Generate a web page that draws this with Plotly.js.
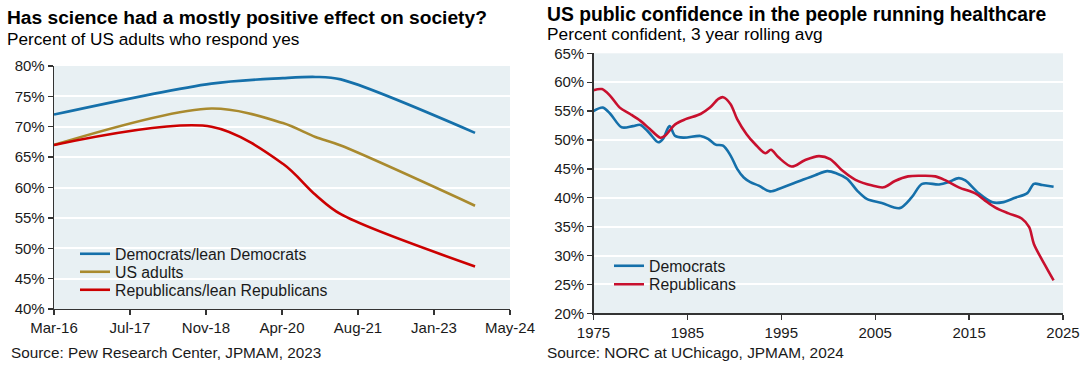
<!DOCTYPE html>
<html>
<head>
<meta charset="utf-8">
<script src="https://cdn.plot.ly/plotly-3.0.1.min.js"></script>
<style>
html,body{margin:0;padding:0;background:#fff;}
#chart{width:1084px;height:365px;}
</style>
</head>
<body>
<div id="chart"></div>
<script>
// ---- Left chart: Pew survey ----
const pewDates = ['2016-03-01','2019-01-01','2020-04-15','2020-11-15','2021-05-01','2023-10-01'];
const pewDem = [72, 77.1, 78.0, 78.2, 77.8, 69];
const pewAll = [67, 73.0, 70.6, 68.3, 66.9, 57];
const pewRep = [67, 70.0, 63.9, 58.8, 55.6, 47];
const pewTickVals = ['2016-03-01','2017-07-14','2018-11-26','2020-04-09','2021-08-22','2023-01-04','2024-05-18'];
const pewTickText = ['Mar-16','Jul-17','Nov-18','Apr-20','Aug-21','Jan-23','May-24'];

// ---- Right chart: NORC GSS confidence in medicine ----
const gssTickVals = [1975, 1985, 1995, 2005, 2015, 2025];
const demYears = [1975.0,1976.0,1976.8,1978.0,1979.2,1980.0,1980.9,1981.9,1982.4,1983.1,1983.7,1984.6,1986.4,1987.2,1988.0,1988.8,1989.6,1990.3,1991.0,1991.7,1992.6,1993.8,1995.0,1996.8,1998.6,1999.9,2000.9,2002.0,2003.1,2004.1,2005.7,2007.6,2008.9,2010.0,2011.8,2012.8,2013.9,2014.6,2016.0,2017.5,2018.5,2019.9,2021.2,2021.9,2022.8,2024.0];
const demVals  = [55.0,55.6,54.5,52.2,52.4,52.6,51.3,49.6,50.2,52.4,50.7,50.4,50.7,50.2,49.2,49.0,47.3,45.0,43.5,42.7,42.1,41.1,41.7,42.8,43.9,44.6,44.2,43.3,41.2,39.8,39.1,38.2,40.1,42.4,42.3,42.7,43.4,43.0,40.8,39.2,39.2,40.0,40.8,42.4,42.2,41.9];
const repYears = [1975.0,1975.9,1976.8,1977.8,1978.9,1980.0,1981.0,1982.1,1982.6,1983.7,1984.8,1986.4,1987.4,1988.3,1988.8,1989.6,1990.3,1991.3,1992.2,1993.3,1993.9,1994.7,1996.1,1997.5,1999.0,2000.2,2001.5,2002.9,2004.7,2005.9,2007.1,2008.5,2010.0,2011.4,2012.5,2013.9,2015.7,2016.7,2017.8,2019.2,2020.6,2021.4,2021.9,2023.1,2024.0];
const repVals  = [58.6,58.8,57.6,55.6,54.5,53.3,51.9,50.4,50.7,52.7,53.6,54.5,55.6,57.1,57.4,56.2,53.6,51.0,49.3,47.7,48.3,47.0,45.4,46.5,47.2,46.7,44.7,43.1,42.1,41.8,42.9,43.7,43.8,43.7,43.0,41.8,40.7,39.5,38.3,37.3,36.4,34.9,32.0,28.3,25.7];

const FONT = 'Liberation Sans, Arial, sans-serif';
const BLUE = '#1570AA';
const GOLD = '#A98A2E';
const RED_L = '#CC0000';
const RED_R = '#C8102E';
const BG = '#E8F0F3';

function line(x, y, name, color, xa, ya, leg) {
  return {x: x, y: y, name: name, type: 'scatter', mode: 'lines',
    line: {color: color, width: 2.6, shape: 'spline', smoothing: 0.9},
    xaxis: xa, yaxis: ya, legend: leg, hoverinfo: 'skip'};
}

const traces = [
  line(pewDates, pewDem, 'Democrats/lean Democrats', BLUE, 'x', 'y', 'legend'),
  line(pewDates, pewAll, 'US adults', GOLD, 'x', 'y', 'legend2'),
  line(pewDates, pewRep, 'Republicans/lean Republicans', RED_L, 'x', 'y', 'legend3'),
  line(demYears, demVals, 'Democrats', BLUE, 'x2', 'y2', 'legend4'),
  line(repYears, repVals, 'Republicans', RED_R, 'x2', 'y2', 'legend5')
];

const axisCommon = {
  showline: true, linecolor: '#333', linewidth: 1.3,
  ticks: 'outside', ticklen: 5, tickcolor: '#333', tickwidth: 1.3,
  tickfont: {family: FONT, size: 15, color: '#1a1a1a'},
  zeroline: false, fixedrange: true
};

const W = 1084, H = 365;
function leg(xpx, topPx) {
  return {x: xpx/W, y: (H-topPx)/H, xanchor: 'left', yanchor: 'top',
    bgcolor: 'rgba(0,0,0,0)', font: {family: FONT, size: 15.8, color: '#1a1a1a'},
    itemclick: false, itemdoubleclick: false};
}

const layout = {
  width: W, height: H,
  margin: {l: 0, r: 0, t: 0, b: 0},
  paper_bgcolor: '#fff',
  plot_bgcolor: BG,
  showlegend: true,
  font: {family: FONT, color: '#1a1a1a'},
  xaxis: Object.assign({}, axisCommon, {
    domain: [54/W, 510/W], type: 'date',
    range: ['2016-03-01', '2024-05-18'],
    tickmode: 'array', tickvals: pewTickVals, ticktext: pewTickText,
    showgrid: false, anchor: 'y'
  }),
  yaxis: Object.assign({}, axisCommon, {
    domain: [(H-309)/H, (H-66)/H], range: [40, 80], dtick: 5, ticksuffix: '%',
    showgrid: true, gridcolor: '#ffffff', gridwidth: 2, anchor: 'x'
  }),
  xaxis2: Object.assign({}, axisCommon, {
    domain: [593.5/W, 1063/W], range: [1975, 2025],
    tickmode: 'array', tickvals: gssTickVals,
    showgrid: false, anchor: 'y2'
  }),
  yaxis2: Object.assign({}, axisCommon, {
    domain: [(H-313.3)/H, (H-53.3)/H], range: [20, 65], dtick: 5, ticksuffix: '%',
    showgrid: true, gridcolor: '#ffffff', gridwidth: 2, anchor: 'x2'
  }),
  legend: leg(75, 237),
  legend2: leg(75, 255),
  legend3: leg(75, 273),
  legend4: leg(609, 249),
  legend5: leg(609, 267.5),
  annotations: [
    {text: '<b>Has science had a mostly positive effect on society?</b>', xref: 'paper', yref: 'paper',
     x: 5/W, y: (H-5)/H, xanchor: 'left', yanchor: 'top', showarrow: false,
     font: {family: FONT, size: 19.2, color: '#000'}},
    {text: 'Percent of US adults who respond yes', xref: 'paper', yref: 'paper',
     x: 5/W, y: (H-27)/H, xanchor: 'left', yanchor: 'top', showarrow: false,
     font: {family: FONT, size: 17.2, color: '#000'}},
    {text: 'Source: Pew Research Center, JPMAM, 2023', xref: 'paper', yref: 'paper',
     x: 9/W, y: (H-352)/H, xanchor: 'left', yanchor: 'middle', showarrow: false,
     font: {family: FONT, size: 15.3, color: '#1a1a1a'}},
    {text: '<b>US public confidence in the people running healthcare</b>', xref: 'paper', yref: 'paper',
     x: 545/W, y: (H-2)/H, xanchor: 'left', yanchor: 'top', showarrow: false,
     font: {family: FONT, size: 19.3, color: '#000'}},
    {text: 'Percent confident, 3 year rolling avg', xref: 'paper', yref: 'paper',
     x: 545/W, y: (H-22)/H, xanchor: 'left', yanchor: 'top', showarrow: false,
     font: {family: FONT, size: 17.3, color: '#000'}},
    {text: 'Source: NORC at UChicago, JPMAM, 2024', xref: 'paper', yref: 'paper',
     x: 545/W, y: (H-352)/H, xanchor: 'left', yanchor: 'middle', showarrow: false,
     font: {family: FONT, size: 15.4, color: '#1a1a1a'}}
  ]
};

Plotly.newPlot('chart', traces, layout, {staticPlot: true, displayModeBar: false});
</script>
</body>
</html>
